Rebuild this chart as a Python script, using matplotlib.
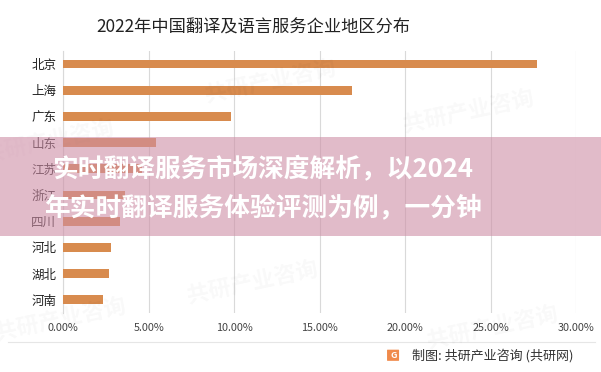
import matplotlib
matplotlib.use("Agg")
import matplotlib.pyplot as plt
from matplotlib.patches import Rectangle, FancyBboxPatch

plt.rcParams['font.family'] = ['Noto Sans CJK SC', 'DejaVu Sans']

regions = ["北京", "上海", "广东", "山东", "江苏", "浙江", "四川", "河北", "湖北", "河南"]
shares = [27.7, 16.9, 9.8, 5.4, 4.6, 3.6, 3.3, 2.8, 2.65, 2.3]
xticks = [0, 5, 10, 15, 20, 25, 30]
xtick_labels = ["0.00%", "5.00%", "10.00%", "15.00%", "20.00%", "25.00%", "30.00%"]
title = "2022年中国翻译及语言服务企业地区分布"
banner_lines = ["实时翻译服务市场深度解析，以2024", "年实时翻译服务体验评测为例，一分钟"]
source = "制图: 共研产业咨询 (共研网)"

fig = plt.figure(figsize=(6.01, 3.72), dpi=100)
ax = fig.add_axes([0.1053, 0.159, 0.8531, 0.704])

ypos = list(range(len(regions)))
ax.barh(ypos, shares, height=0.33, color="#D88B4E", zorder=3)
ax.set_ylim(len(regions) - 0.5, -0.5)
ax.set_xlim(0, 30)
ax.set_yticks(ypos)
ax.set_yticklabels(regions, fontsize=9, color="#222222")
ax.set_xticks(xticks)
ax.set_xticklabels(xtick_labels, fontsize=7.8, color="#444444")
ax.tick_params(axis='x', length=0, pad=7)
ax.tick_params(axis='y', length=0, pad=5)
ax.grid(axis='x', color="#D9D9D9", linewidth=0.8, zorder=0)
for s in ["top", "right", "bottom"]:
    ax.spines[s].set_visible(False)
ax.spines["left"].set_color("#D9D9D9")
ax.spines["left"].set_linewidth(0.8)

fig.text(0.422, 0.925, title, fontsize=12.4, ha="center", va="center", color="#222222")

# faint watermarks
for (x, y) in [(0.08, 0.62), (0.45, 0.78), (0.78, 0.70), (0.42, 0.24), (0.82, 0.12), (0.1, 0.14)]:
    fig.text(x, y, "共研产业咨询", fontsize=16, rotation=12, color="#000000", alpha=0.028,
             ha="center", va="center", fontweight="bold")

# bottom rule
fig.add_artist(plt.Line2D([0.013, 0.99], [0.081, 0.081], transform=fig.transFigure,
                          color="#E6E6E6", linewidth=0.8))

# source logo and text
fig.add_artist(FancyBboxPatch((0.645, 0.031), 0.018, 0.028, boxstyle="round,pad=0.001",
                              transform=fig.transFigure, facecolor="#F08A4B", edgecolor="none"))
fig.text(0.6545, 0.045, "G", fontsize=6.5, color="white", ha="center", va="center", fontweight="bold")
fig.text(0.685, 0.045, source, fontsize=9.4, color="#333333", ha="left", va="center")

# pink banner overlay
fig.add_artist(Rectangle((0, 1 - 236 / 372), 1, (236 - 137) / 372, transform=fig.transFigure,
                         facecolor=(206 / 255, 142 / 255, 166 / 255), alpha=0.6, edgecolor="none",
                         zorder=10))
fig.text(0.438, 1 - 170 / 372, banner_lines[0], fontsize=18.5, fontweight="heavy", color="white",
         ha="center", va="center", zorder=11)
fig.text(0.438, 1 - 208 / 372, banner_lines[1], fontsize=18.5, fontweight="heavy", color="white",
         ha="center", va="center", zorder=11)

fig.savefig("out.png", dpi=100, facecolor="white")
